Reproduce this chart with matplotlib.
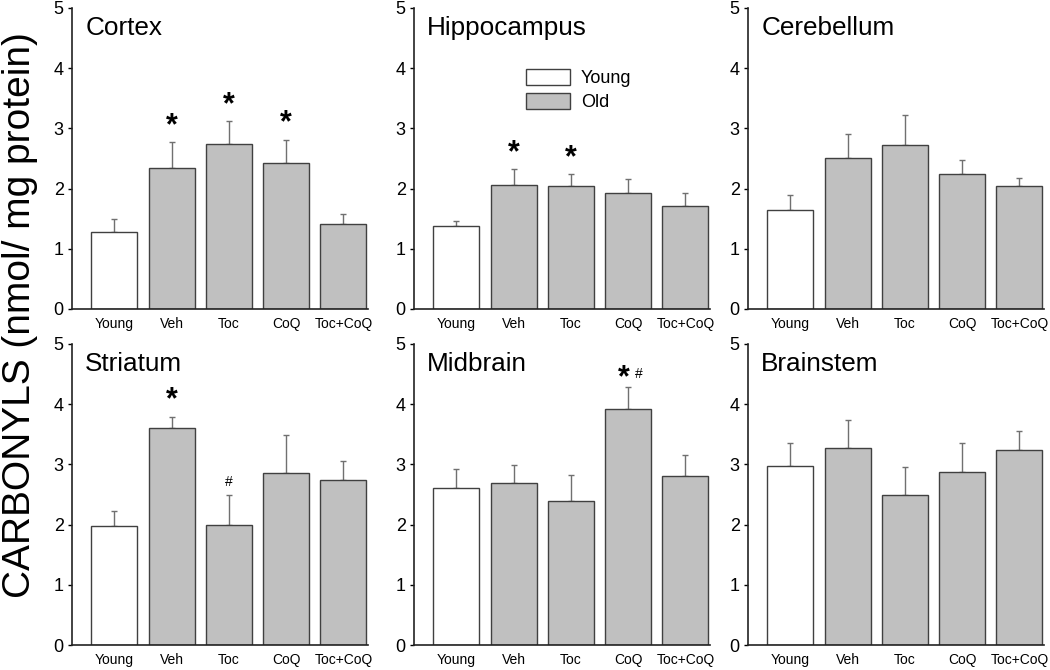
import matplotlib.pyplot as plt
from matplotlib.patches import Patch
import numpy as np

plt.rcParams['font.family'] = ['Liberation Sans', 'DejaVu Sans']

groups = ['Young', 'Veh', 'Toc', 'CoQ', 'Toc+CoQ']

cortex_mean = [1.28, 2.35, 2.74, 2.43, 1.42]
cortex_err = [0.22, 0.42, 0.38, 0.38, 0.15]
cortex_marks = ['', '*', '*', '*', '']

hippo_mean = [1.38, 2.06, 2.04, 1.92, 1.71]
hippo_err = [0.09, 0.26, 0.20, 0.24, 0.22]
hippo_marks = ['', '*', '*', '', '']

cereb_mean = [1.65, 2.51, 2.72, 2.24, 2.05]
cereb_err = [0.25, 0.40, 0.50, 0.23, 0.13]
cereb_marks = ['', '', '', '', '']

striat_mean = [1.98, 3.60, 1.99, 2.86, 2.74]
striat_err = [0.25, 0.19, 0.51, 0.63, 0.32]
striat_marks = ['', '*', '#', '', '']

midb_mean = [2.61, 2.69, 2.39, 3.92, 2.81]
midb_err = [0.31, 0.30, 0.43, 0.37, 0.35]
midb_marks = ['', '', '', '*#', '']

brainst_mean = [2.97, 3.27, 2.49, 2.87, 3.24]
brainst_err = [0.39, 0.47, 0.46, 0.49, 0.31]
brainst_marks = ['', '', '', '', '']

panels = [
    ('Cortex', cortex_mean, cortex_err, cortex_marks),
    ('Hippocampus', hippo_mean, hippo_err, hippo_marks),
    ('Cerebellum', cereb_mean, cereb_err, cereb_marks),
    ('Striatum', striat_mean, striat_err, striat_marks),
    ('Midbrain', midb_mean, midb_err, midb_marks),
    ('Brainstem', brainst_mean, brainst_err, brainst_marks),
]

colors = ['white', '#c0c0c0', '#c0c0c0', '#c0c0c0', '#c0c0c0']
edge = '#404040'

fig = plt.figure(figsize=(10.5, 6.7), dpi=100)
lefts = [72 / 1050, 414 / 1050, 748 / 1050]
bottoms = [1 - 309 / 670, 1 - 645 / 670]
w = 296 / 1050
h = 301 / 670

x = np.arange(len(groups))
for i, (name, mean, err, marks) in enumerate(panels):
    ax = fig.add_axes([lefts[i % 3], bottoms[i // 3], w, h])
    ax.bar(x, mean, width=0.8, color=colors, edgecolor=edge, linewidth=1, zorder=2)
    ax.errorbar(x, mean, yerr=[np.zeros(5), err], fmt='none', ecolor='#707070',
                elinewidth=1, capsize=2, capthick=1, zorder=1)
    for j, m in enumerate(marks):
        top = mean[j] + err[j]
        if m == '*':
            ax.annotate('*', (x[j], top), xytext=(0, 1), textcoords='offset points',
                        ha='center', va='bottom', fontsize=22, fontweight='bold')
        elif m == '#':
            ax.annotate('#', (x[j], top), xytext=(0, 4), textcoords='offset points',
                        ha='center', va='bottom', fontsize=10)
        elif m == '*#':
            ax.annotate('*', (x[j], top), xytext=(-3, -5), textcoords='offset points',
                        ha='center', va='bottom', fontsize=22, fontweight='bold')
            ax.annotate('#', (x[j], top), xytext=(8, 4), textcoords='offset points',
                        ha='center', va='bottom', fontsize=10)
    ax.set_xlim(-0.74, 4.43)
    ax.set_ylim(0, 5)
    ax.set_yticks([0, 1, 2, 3, 4, 5])
    ax.set_xticks(x)
    ax.set_xticklabels(groups)
    ax.tick_params(axis='x', length=0, labelsize=10, pad=6)
    ax.tick_params(axis='y', direction='out', length=3, width=1, labelsize=13, pad=3)
    for s in ['top', 'right']:
        ax.spines[s].set_visible(False)
    for s in ['left', 'bottom']:
        ax.spines[s].set_color('#222222')
        ax.spines[s].set_linewidth(1.2)
    ax.text(0.045, 0.975, name, transform=ax.transAxes, ha='left', va='top', fontsize=18.8)
    if name == 'Hippocampus':
        handles = [Patch(facecolor='white', edgecolor=edge, label='Young'),
                   Patch(facecolor='#c0c0c0', edgecolor=edge, label='Old')]
        ax.legend(handles=handles, loc='upper left', bbox_to_anchor=(0.38, 0.797),
                  frameon=False, fontsize=13, handlelength=2.4, handleheight=1.0,
                  labelspacing=0.3, handletextpad=0.6, borderpad=0.0, borderaxespad=0.0)

fig.text(0.019, 0.53, 'CARBONYLS (nmol/ mg protein)', rotation=90, ha='center',
         va='center', fontsize=28)

fig.savefig('out.png', dpi=100)
